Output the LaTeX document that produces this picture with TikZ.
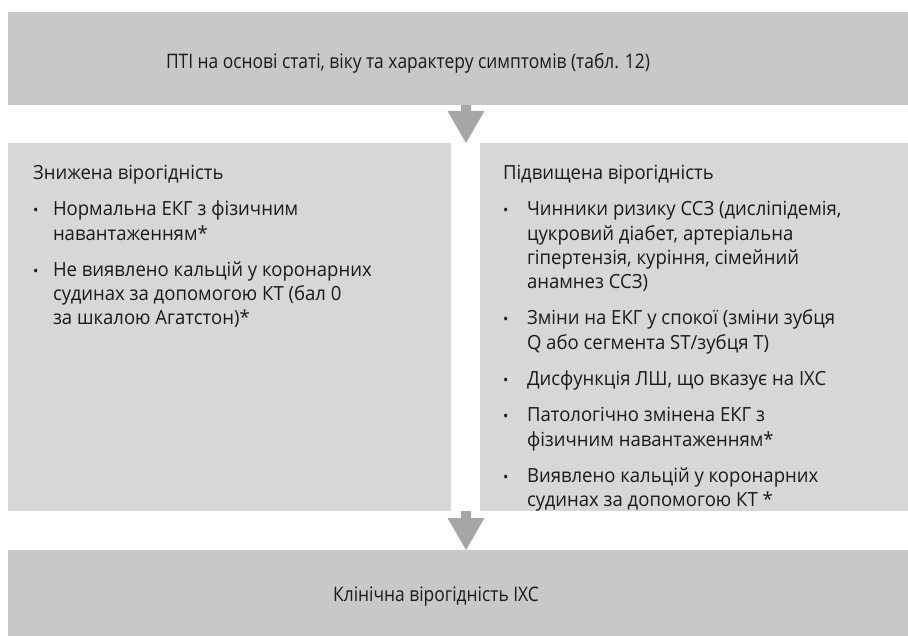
\documentclass[tikz,border=0pt]{standalone}
\usepackage{fontspec}
\setmainfont[FakeStretch=0.95]{Open Sans}
\newfontfamily\condfont[FakeStretch=0.87]{Open Sans}
\usepackage{array}
\usetikzlibrary{calc}
\definecolor{boxdark}{HTML}{C8C8C8}
\definecolor{boxlight}{HTML}{D7D7D7}
\definecolor{arrowgray}{HTML}{A6A6A6}
\definecolor{txt}{HTML}{1A1A1A}
\newcommand{\bul}{{\fontsize{15}{15}\selectfont •}}
\begin{document}
\begin{tikzpicture}[x=1pt,y=-1pt,
  box/.style={anchor=north west, inner sep=0pt, outer sep=0pt, draw=none},
  lbl/.style={inner sep=0pt, outer sep=0pt, text=txt, font=\fontsize{19.5}{24.3}\selectfont},
  cond/.style={inner sep=0pt, outer sep=0pt, text=txt, font=\condfont\fontsize{20}{22}\selectfont},
  blockarrow/.style={fill=arrowgray, draw=none}
]
\useasboundingbox (0,0) rectangle (908,636);
% boxes
\node[box, fill=boxdark, minimum width=900pt, minimum height=93pt] (top) at (8,12) {};
\node[box, fill=boxlight, minimum width=443pt, minimum height=368pt] (left) at (8,143) {};
\node[box, fill=boxlight, minimum width=428pt, minimum height=368pt] (right) at (480,143) {};
\node[box, fill=boxdark, minimum width=900pt, minimum height=86pt] (bottom) at (8,550) {};
% texts
\node[cond] (toptext) at (408,63) {ПТІ на основі статі, віку та характеру симптомів (табл. 12)};
\node[cond] (bottomtext) at (436,597) {Клінічна вірогідність ІХС};
\node[lbl, anchor=base west] (lefttext) at (33,179.5) {%
\begin{tabular}[t]{@{}p{20pt}@{}l@{}}
\multicolumn{2}{@{}l@{}}{Знижена вірогідність}\\[12pt]
\bul & Нормальна ЕКГ з фізичним\\
  & навантаженням*\\[12pt]
\bul & Не виявлено кальцій у коронарних\\
  & судинах за допомогою КТ (бал 0\\
  & за шкалою Агатстон)*
\end{tabular}};
\node[lbl, anchor=base west] (righttext) at (503,179.5) {%
\begin{tabular}[t]{@{}p{24pt}@{}l@{}}
\multicolumn{2}{@{}l@{}}{Підвищена вірогідність}\\[12pt]
\bul & Чинники ризику ССЗ (дисліпідемія,\\
  & цукровий діабет, артеріальна\\
  & гіпертензія, куріння, сімейний\\
  & анамнез ССЗ)\\[12pt]
\bul & Зміни на ЕКГ у спокої (зміни зубця\\
  & Q або сегмента ST/зубця T)\\[12pt]
\bul & Дисфункція ЛШ, що вказує на ІХС\\[12pt]
\bul & Патологічно змінена ЕКГ з\\
  & фізичним навантаженням*\\[12pt]
\bul & Виявлено кальцій у коронарних\\
  & судинах за допомогою КТ *
\end{tabular}};
% arrows
\coordinate (a1s) at ($(top.south west)+(458,0)$);
\coordinate (a1e) at (a1s |- left.north);
\coordinate (a2s) at (a1s |- left.south);
\coordinate (a2e) at (a1s |- bottom.north);
\fill[blockarrow] ($(a1s)+(-5,0)$) -- ($(a1s)+(-5,6)$) -- ($(a1s)+(-18.5,6)$) -- (a1e)
  -- ($(a1s)+(18.5,6)$) -- ($(a1s)+(5,6)$) -- ($(a1s)+(5,0)$) -- cycle;
\fill[blockarrow] ($(a2s)+(-5,0)$) -- ($(a2s)+(-5,7)$) -- ($(a2s)+(-18.5,7)$) -- (a2e)
  -- ($(a2s)+(18.5,7)$) -- ($(a2s)+(5,7)$) -- ($(a2s)+(5,0)$) -- cycle;
\end{tikzpicture}
\end{document}
